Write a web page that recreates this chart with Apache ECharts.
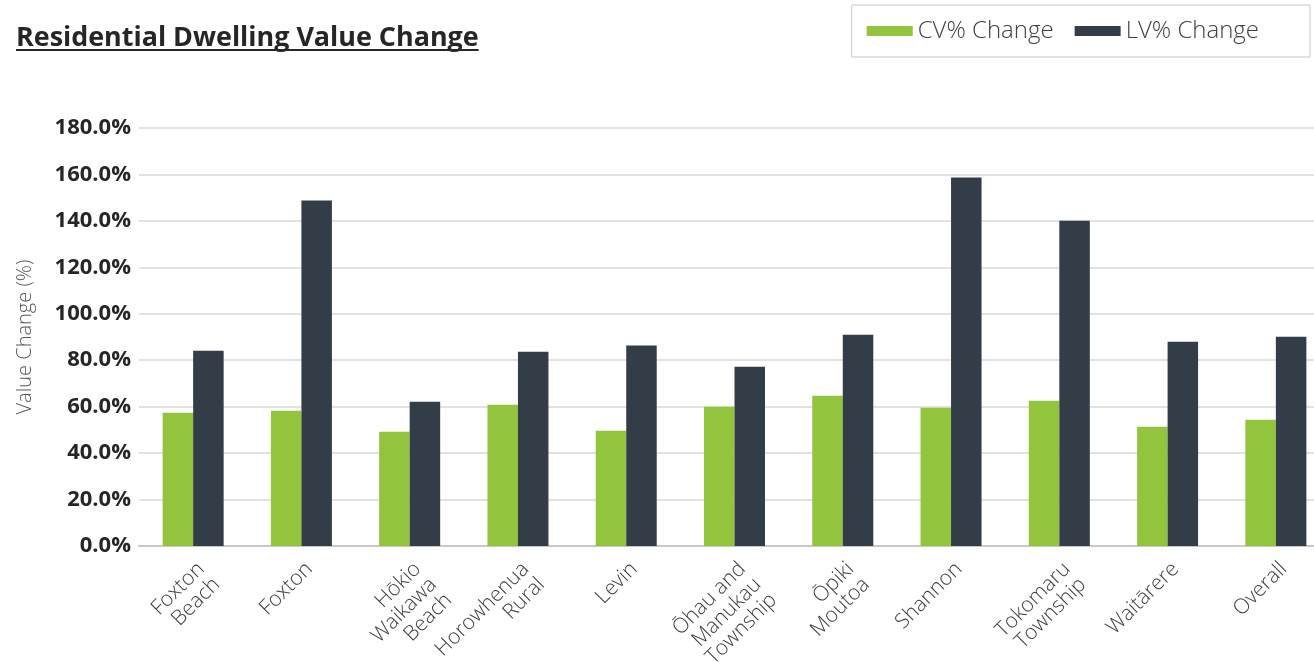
<!DOCTYPE html>
<html>
<head>
<meta charset="utf-8">
<title>Residential Dwelling Value Change</title>
<script src="https://cdn.jsdelivr.net/npm/echarts@6/dist/echarts.min.js"></script>
<style>
  html, body { margin: 0; padding: 0; background: #ffffff; }
  #chart { width: 1314px; height: 662px; }
</style>
</head>
<body>
<div id="chart"></div>
<script>
// Areas, in axis order (line breaks as they wrap under the axis)
const areas = [
  'Foxton\nBeach', 'Foxton', 'Hōkio\nWaikawa\nBeach', 'Horowhenua\nRural', 'Levin',
  'Ōhau and\nManukau\nTownship', 'Ōpiki\nMoutoa', 'Shannon', 'Tokomaru\nTownship',
  'Waitārere', 'Overall'
];

// Capital value change, percent
const cvChange = [57.4, 58.2, 49.2, 60.8, 49.6, 60.0, 64.7, 59.5, 62.5, 51.3, 54.4];

// Land value change, percent
const lvChange = [84.1, 148.8, 62.1, 83.7, 86.3, 77.2, 91.0, 158.7, 140.1, 88.0, 90.1];

// Value axis ticks
const yMin = 0;
const yMax = 180;
const yStep = 20;

const seriesNames = ['CV% Change', 'LV% Change'];
const titleText = 'Residential Dwelling Value Change';
const yAxisTitle = 'Value Change (%)';

const GREEN = '#92c43e';
const SLATE = '#333d47';
const FONT = '"Open Sans", "Noto Sans", "DejaVu Sans", sans-serif';
const TITLE_FONT = '700 26.9px ' + FONT;

const chart = echarts.init(document.getElementById('chart'), null, { renderer: 'canvas' });

// width of the heading, used for its underline
const measure = document.createElement('canvas').getContext('2d');
measure.font = TITLE_FONT;
const titleWidth = measure.measureText(titleText).width;

chart.setOption({
  animation: false,
  backgroundColor: '#ffffff',
  textStyle: { fontFamily: FONT },
  graphic: [
    {
      type: 'text',
      left: 16,
      top: 25,
      style: {
        text: titleText,
        font: TITLE_FONT,
        fill: '#262626'
      }
    },
    {
      type: 'rect',
      left: 16,
      top: 49,
      shape: { width: titleWidth, height: 2 },
      style: { fill: '#262626' }
    }
  ],
  legend: {
    data: seriesNames,
    right: 4,
    top: 5,
    orient: 'horizontal',
    itemWidth: 46,
    itemHeight: 10,
    itemGap: 21,
    padding: [14, 51, 14, 15],
    borderColor: '#c8c8c8',
    borderWidth: 1,
    icon: 'rect',
    textStyle: {
      fontFamily: FONT,
      fontSize: 24,
      fontWeight: 300,
      color: '#404040'
    }
  },
  grid: {
    left: 139,
    top: 128,
    width: 1191,
    height: 418,
    outerBoundsMode: 'none',
    containLabel: false
  },
  xAxis: {
    type: 'category',
    data: areas,
    axisTick: { show: false },
    axisLine: { show: true, lineStyle: { color: '#c8c8c8', width: 2 } },
    axisLabel: {
      interval: 0,
      rotate: 45,
      margin: 12,
      align: 'right',
      verticalAlign: 'top',
      fontFamily: FONT,
      fontSize: 21,
      fontWeight: 300,
      lineHeight: 22,
      color: '#404040'
    }
  },
  yAxis: {
    type: 'value',
    min: yMin,
    max: yMax,
    interval: yStep,
    name: yAxisTitle,
    nameLocation: 'middle',
    nameRotate: 90,
    nameGap: 104,
    nameTextStyle: {
      fontFamily: FONT,
      fontSize: 20,
      fontWeight: 300,
      color: '#595959'
    },
    axisLine: { show: false },
    axisTick: { show: false },
    axisLabel: {
      margin: 8,
      fontFamily: FONT,
      fontSize: 22,
      fontWeight: 700,
      color: '#262626',
      formatter: v => v.toFixed(1) + '%'
    },
    splitLine: { lineStyle: { color: '#d9d9d9', width: 1.5 } }
  },
  series: [
    {
      name: seriesNames[0],
      type: 'bar',
      data: cvChange,
      barWidth: 30.5,
      barGap: '0%',
      itemStyle: { color: GREEN }
    },
    {
      name: seriesNames[1],
      type: 'bar',
      data: lvChange,
      barWidth: 30.5,
      barGap: '0%',
      itemStyle: { color: SLATE }
    }
  ]
});
</script>
</body>
</html>
